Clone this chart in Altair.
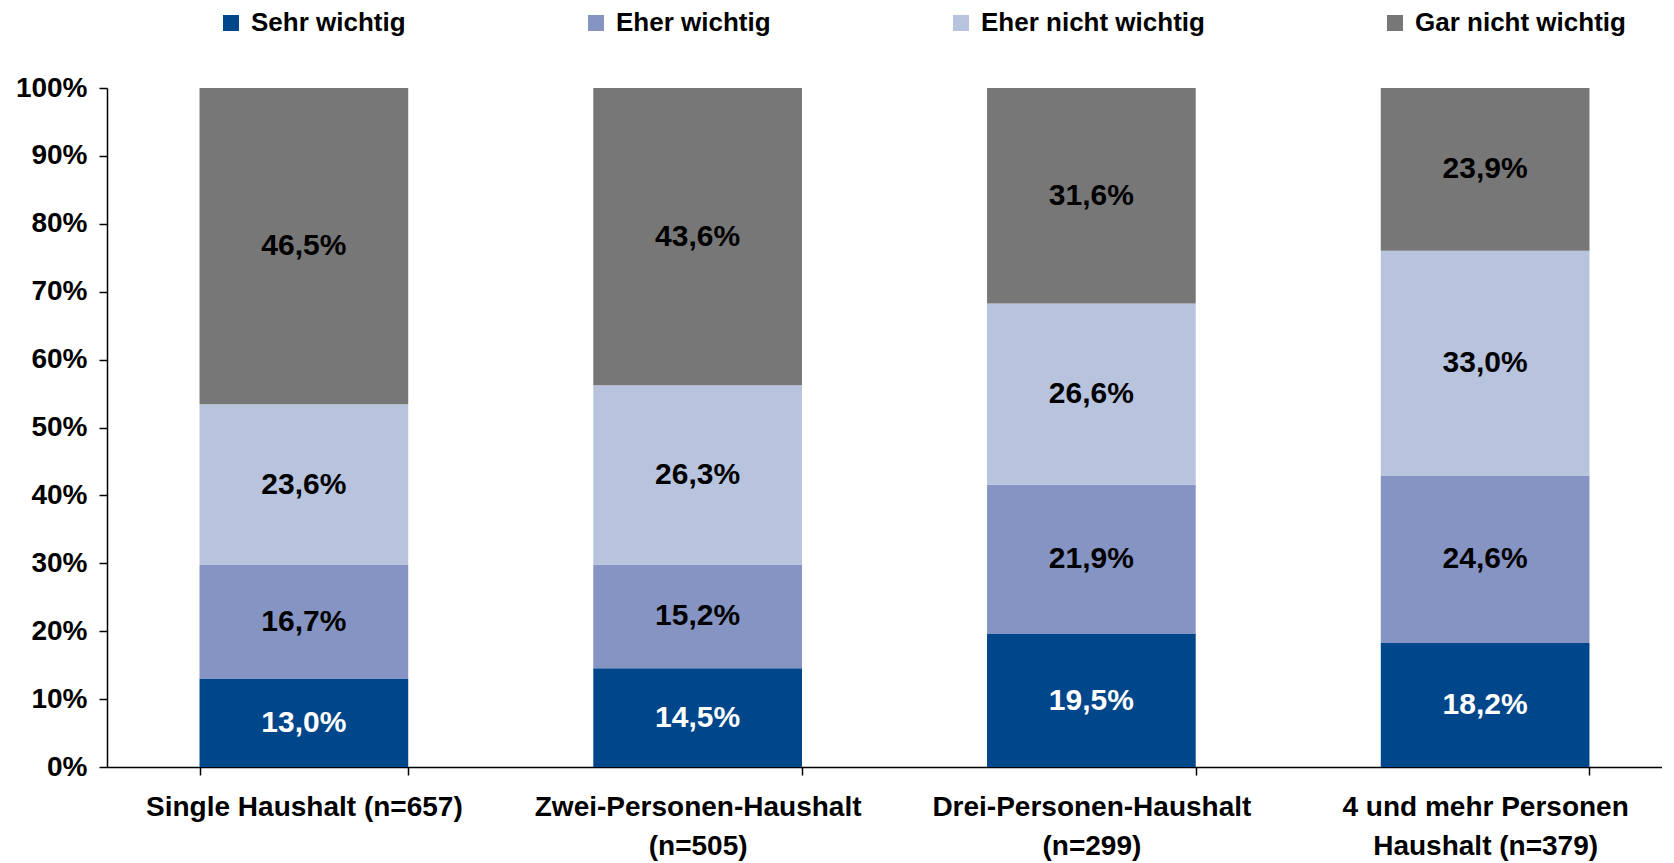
import altair as alt
import pandas as pd

categories = [
    "Single Haushalt (n=657)",
    "Zwei-Personen-Haushalt\n(n=505)",
    "Drei-Personen-Haushalt\n(n=299)",
    "4 und mehr Personen\nHaushalt (n=379)",
]
series = ["Sehr wichtig", "Eher wichtig", "Eher nicht wichtig", "Gar nicht wichtig"]
colors = ["#00468A", "#8594C2", "#B8C3DE", "#777777"]

sehr_wichtig = [13.0, 14.5, 19.5, 18.2]
eher_wichtig = [16.7, 15.2, 21.9, 24.6]
eher_nicht_wichtig = [23.6, 26.3, 26.6, 33.0]
gar_nicht_wichtig = [46.5, 43.6, 31.6, 23.9]

values = [sehr_wichtig, eher_wichtig, eher_nicht_wichtig, gar_nicht_wichtig]

rows = []
for si, s in enumerate(series):
    for ci, c in enumerate(categories):
        v = values[si][ci]
        rows.append({
            "cat": c,
            "series": s,
            "order": si,
            "value": v,
            "label": f"{v:.1f}".replace(".", ",") + "%",
        })
df = pd.DataFrame(rows)

FONT = "Liberation Sans"

base = alt.Chart(df).transform_stack(
    stack="value",
    groupby=["cat"],
    as_=["v0", "v1"],
    offset="normalize",
    sort=[alt.SortField("order", order="ascending")],
).transform_calculate(mid="(datum.v0 + datum.v1) / 2")

x_enc = alt.X(
    "cat:N",
    sort=categories,
    scale=alt.Scale(range=[0, 1575], paddingInner=0.47, paddingOuter=0.235),
    axis=alt.Axis(
        title=None,
        labelAngle=0,
        labelExpr="split(datum.label, '\\n')",
        labelFont=FONT,
        labelFontSize=28,
        labelFontWeight="bold",
        labelColor="black",
        labelLimit=0,
        labelLineHeight=39,
        labelPadding=18,
        labelBaseline="top",
        tickBand="extent",
        tickSize=8,
        tickColor="black",
        tickWidth=1.5,
        domainColor="black",
        domainWidth=1.5,
        grid=False,
    ),
)

bars = base.mark_bar().encode(
    x=x_enc,
    y=alt.Y(
        "v0:Q",
        scale=alt.Scale(domain=[0, 1]),
        axis=alt.Axis(
            title=None,
            format=".0%",
            values=[i / 10 for i in range(11)],
            labelFont=FONT,
            labelFontSize=28,
            labelFontWeight="bold",
            labelColor="black",
            labelPadding=12,
            tickSize=8,
            tickColor="black",
            tickWidth=1.5,
            domainColor="black",
            domainWidth=1.5,
            grid=False,
        ),
    ),
    y2="v1:Q",
    color=alt.Color(
        "series:N",
        sort=series,
        scale=alt.Scale(domain=series, range=colors),
        legend=alt.Legend(
            title=None,
            orient="none",
            legendX=111,
            legendY=-78,
            direction="horizontal",
            columns=4,
            columnPadding=177,
            symbolType="square",
            symbolSize=256,
            symbolStrokeWidth=0,
            labelFont=FONT,
            labelFontSize=26,
            labelFontWeight="bold",
            labelColor="black",
            labelOffset=7,
            labelLimit=0,
            padding=0,
        ),
    ),
)

texts = base.mark_text(
    font=FONT, fontSize=30, fontWeight="bold", baseline="middle", align="center"
).encode(
    x=alt.X("cat:N", sort=categories),
    y=alt.Y("mid:Q"),
    text="label:N",
    color=alt.condition(
        "datum.series == 'Sehr wichtig'", alt.value("white"), alt.value("black")
    ),
)

chart = (
    alt.layer(bars, texts)
    .properties(
        width=1555,
        height=679,
        autosize=alt.AutoSizeParams(type="none"),
        padding={"left": 99, "top": 80, "right": 0, "bottom": 95},
    )
    .configure_view(stroke=None)
)

chart.save("out.html", embed_options={"renderer": "svg", "actions": False})
